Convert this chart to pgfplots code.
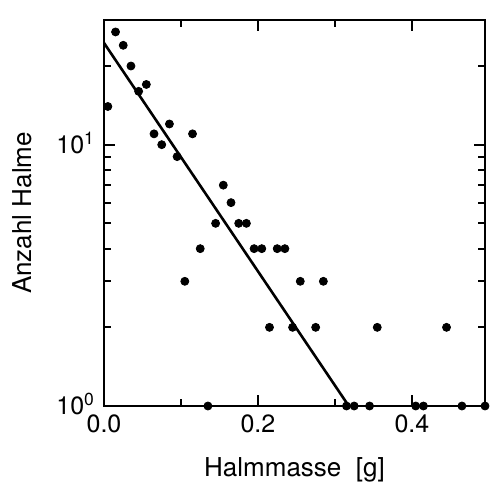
\documentclass[border=0pt]{standalone}
\usepackage{fontspec}
\setmainfont{TeX Gyre Heros}
\usepackage{pgfplots}
\pgfplotsset{compat=1.18}

\begin{document}
\begin{tikzpicture}
\begin{axis}[
  at={(0,0)}, anchor=south west,
  scale only axis, width=190.5pt, height=193pt,
  ymode=log, xmin=0, xmax=0.495, ymin=1, ymax=30,
  xtick={0,0.2,0.4}, xticklabels={0.0,0.2,0.4},
  minor xtick={0.1,0.3},
  ytick={1,10}, yticklabels={{10\textsuperscript{0}},{10\textsuperscript{1}}},
  minor ytick={2,3,4,5,6,7,8,9,20,30},
  tick align=inside,
  major tick length=5.5pt, minor tick length=3.5pt,
  every tick/.style={black, line width=0.9pt},
  axis line style={line width=1pt},
  ticklabel style={font=\fontsize{12.5}{14}\selectfont},
  xticklabel style={yshift=-1pt},
  yticklabel style={xshift=-1pt, yshift=1pt},
  label style={font=\fontsize{13}{15}\selectfont},
  xlabel={Halmmasse\ \ [g]}, ylabel={Anzahl Halme},
  xlabel style={at={(axis description cs:0.5,-0.166)}, anchor=center},
  ylabel style={at={(axis description cs:-0.215,0.5)}, anchor=center},
]
% histogram counts per 0.01 g bin
\addplot[only marks, mark=*, mark size=2pt, black] coordinates {
  (0.005,14) (0.015,27) (0.025,24) (0.035,20) (0.045,16) (0.055,17)
  (0.065,11) (0.075,10) (0.085,12) (0.095,9) (0.105,3) (0.115,11)
  (0.125,4) (0.135,1) (0.145,5) (0.155,7) (0.165,6) (0.175,5)
  (0.185,5) (0.195,4) (0.205,4) (0.215,2) (0.225,4) (0.235,4)
  (0.245,2) (0.255,3) (0.275,2) (0.285,3) (0.315,1) (0.325,1)
  (0.345,1) (0.355,2) (0.405,1) (0.415,1) (0.445,2) (0.465,1)
  (0.495,1)
};
% exponential fit
\addplot[black, line width=1.3pt, no marks] coordinates {(0,24.5) (0.318,1)};
\end{axis}
\pgfresetboundingbox
\path[use as bounding box] (-52pt,-39.5pt) rectangle (193pt,203pt);
\end{tikzpicture}
\end{document}
